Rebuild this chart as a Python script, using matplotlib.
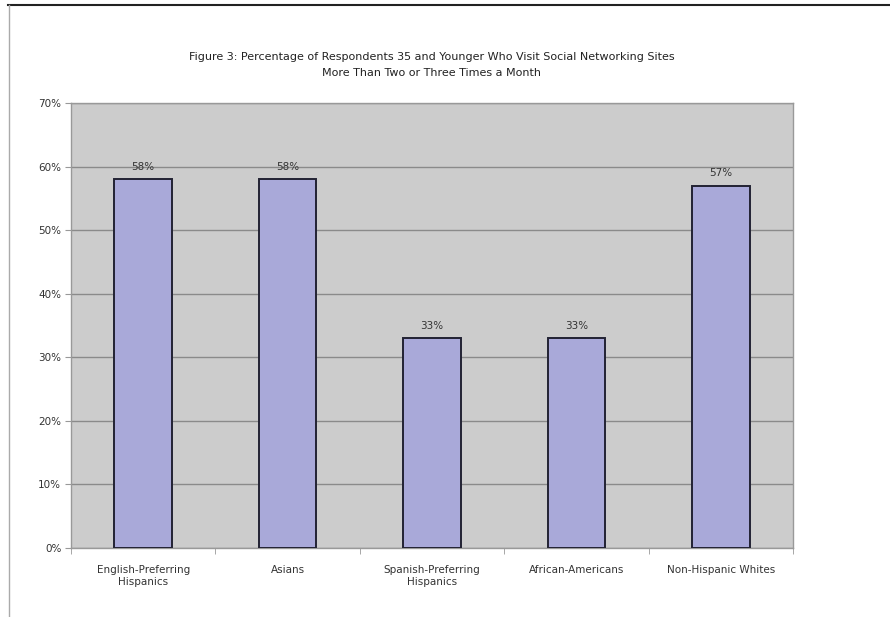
import matplotlib
matplotlib.use("Agg")
import matplotlib.pyplot as plt
from matplotlib.lines import Line2D
from matplotlib.ticker import FixedLocator

categories = ["English-Preferring\nHispanics", "Asians", "Spanish-Preferring\nHispanics",
              "African-Americans", "Non-Hispanic Whites"]
values = [58, 58, 33, 33, 57]
yticks = [0, 10, 20, 30, 40, 50, 60, 70]
title = ("Figure 3: Percentage of Respondents 35 and Younger Who Visit Social Networking Sites\n"
         "More Than Two or Three Times a Month")

W, H = 890, 617
fig = plt.figure(figsize=(W / 100, H / 100), dpi=100)
ax = fig.add_axes([71 / W, 1 - 548 / H, (793 - 71) / W, (548 - 103) / H])

ax.set_facecolor("#cccccc")
x = list(range(len(categories)))
ax.bar(x, values, width=0.4, color="#a9a9d9", edgecolor="#222233", linewidth=1.4, zorder=3)
for xi, v in zip(x, values):
    ax.text(xi, v + 1.2, f"{v}%", ha="center", va="bottom", fontsize=7.5, color="#333333", zorder=4)

ax.set_xlim(-0.5, len(categories) - 0.5)
ax.set_ylim(0, 70)
ax.set_yticks(yticks)
ax.set_yticklabels([f"{t}%" for t in yticks], fontsize=7.5, color="#333333")
ax.set_xticks(x)
ax.set_xticklabels(categories, fontsize=7.5, color="#333333", linespacing=1.35)
ax.tick_params(axis="x", which="major", length=0, pad=12)
ax.xaxis.set_minor_locator(FixedLocator([i - 0.5 for i in range(len(categories) + 1)]))
ax.tick_params(axis="x", which="minor", length=4, color="#999999")
ax.tick_params(axis="y", length=4, color="#999999", pad=3)
ax.yaxis.grid(True, color="#8a8a8a", linewidth=1.0, zorder=1)
ax.set_axisbelow(True)
for s in ["left", "bottom", "top", "right"]:
    ax.spines[s].set_color("#999999")
    ax.spines[s].set_linewidth(1.0)

fig.text(432 / W, 1 - 65 / H, title, ha="center", va="center", fontsize=8, color="#222222",
         linespacing=1.65)

# page border lines
fig.add_artist(Line2D([8 / W, 1], [1 - 5 / H, 1 - 5 / H], color="#222222", linewidth=1.5,
                      transform=fig.transFigure))
fig.add_artist(Line2D([9 / W, 9 / W], [0, 1 - 5 / H], color="#aaaaaa", linewidth=1.0,
                      transform=fig.transFigure))

fig.savefig("out.png", dpi=100)
